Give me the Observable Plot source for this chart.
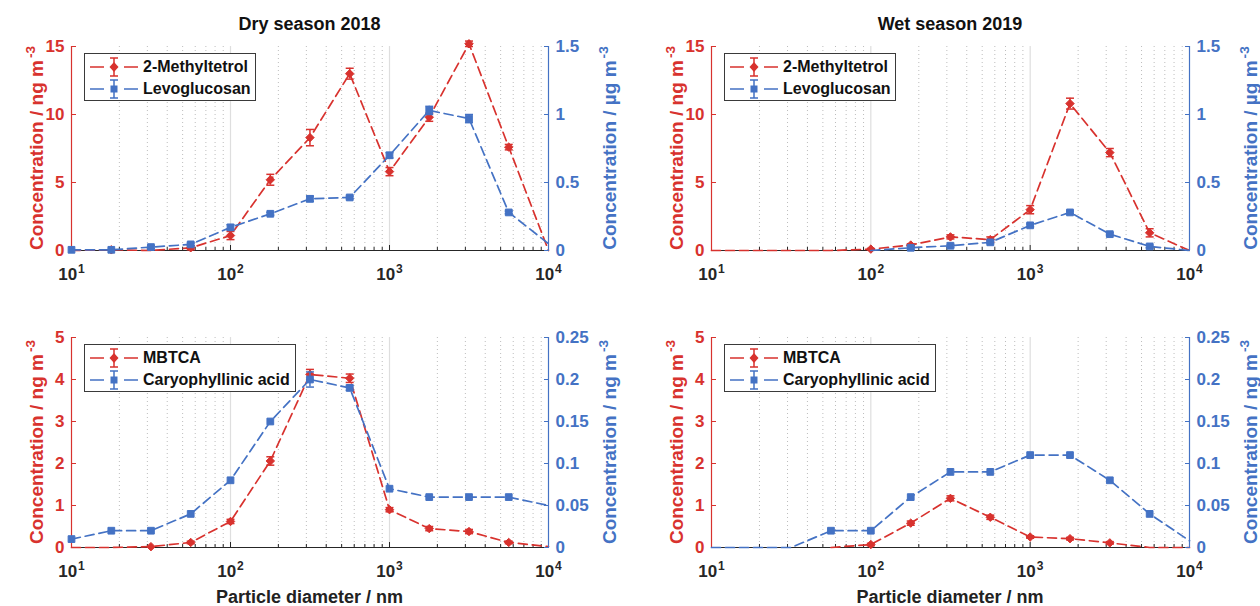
<!DOCTYPE html>
<html>
<head>
<meta charset="utf-8">
<script src="https://cdn.jsdelivr.net/npm/d3@7"></script>
<script src="https://cdn.jsdelivr.net/npm/@observablehq/plot@0.6"></script>
<style>
  html, body { margin: 0; padding: 0; background: #fff; }
  #fig { position: relative; width: 1260px; height: 606px; overflow: hidden;
         font-family: Arial, "Liberation Sans", Helvetica, sans-serif; font-weight: bold; }
  #fig > svg { position: absolute; }
  .title { position: absolute; transform: translate(-50%, -50%); font-size: 18px; color: #111; white-space: nowrap; }
  .ylab { position: absolute; transform: translate(-50%, -50%) rotate(-90deg); font-size: 19px; white-space: nowrap; line-height: 1; }
  .ylab .sup { font-size: 0.72em; position: relative; top: -0.6em; margin-left: 2px; }
  .xlab { position: absolute; transform: translate(-50%, -50%); font-size: 18px; color: #222; white-space: nowrap; }
  .legend { position: absolute; border: 1.3px solid #3a3a3a; background: #fff; box-sizing: border-box; padding-top: 2px; }
  .legend .row { display: flex; align-items: center; height: 22px; font-size: 16px; color: #111; white-space: nowrap; }
  #fig .legend .row svg { position: static; display: block; margin-left: 4px; margin-right: 4px; flex: none; }
</style>
</head>
<body>
<div id="fig"></div>
<script>
// ---------------- data ----------------
const diameters = [10, 17.8, 31.6, 56.2, 100, 178, 316, 562, 1000, 1778, 3162, 5623, 10000];

// Dry season 2018 (top-left)
const methyltetrolDry    = [0, 0.05, 0, 0.2, 1.1, 5.2, 8.3, 13.0, 5.8, 9.8, 15.2, 7.6, 0];
const methyltetrolDryErr = [0, 0, 0, 0.15, 0.3, 0.4, 0.6, 0.4, 0.3, 0.3, 0.2, 0.2, 0];
const levoglucosanDry    = [0.005, 0.005, 0.025, 0.045, 0.17, 0.27, 0.38, 0.39, 0.70, 1.03, 0.97, 0.28, 0.05];
const levoglucosanDryErr = [0, 0, 0.01, 0.01, 0.02, 0.01, 0.02, 0.01, 0.02, 0.03, 0.03, 0.01, 0];

// Wet season 2019 (top-right)
const methyltetrolWet    = [0, 0, 0, 0, 0.1, 0.4, 1.0, 0.8, 3.0, 10.8, 7.2, 1.3, 0];
const methyltetrolWetErr = [0, 0, 0, 0, 0.05, 0.1, 0.15, 0.2, 0.3, 0.4, 0.3, 0.3, 0];
const levoglucosanWet    = [null, null, null, null, 0, 0.02, 0.035, 0.06, 0.185, 0.28, 0.12, 0.03, 0];
const levoglucosanWetErr = [0, 0, 0, 0, 0, 0.01, 0.01, 0.01, 0.01, 0.01, 0.01, 0.01, 0];

// Dry season 2018 (bottom-left)
const mbtcaDry    = [0, 0, 0.02, 0.12, 0.62, 2.06, 4.12, 4.03, 0.9, 0.45, 0.38, 0.12, 0.02];
const mbtcaDryErr = [0, 0, 0, 0.03, 0.05, 0.1, 0.12, 0.1, 0.05, 0.05, 0.05, 0.03, 0];
const caryDry     = [0.01, 0.02, 0.02, 0.04, 0.08, 0.15, 0.2, 0.19, 0.07, 0.06, 0.06, 0.06, 0.05];
const caryDryErr  = [0, 0, 0, 0, 0, 0, 0.009, 0.003, 0, 0, 0, 0, 0];

// Wet season 2019 (bottom-right)
const mbtcaWet    = [null, null, null, 0, 0.07, 0.58, 1.17, 0.72, 0.25, 0.21, 0.11, 0, 0];
const mbtcaWetErr = [0, 0, 0, 0, 0.03, 0.05, 0.06, 0.05, 0.03, 0.03, 0.03, 0, 0];
const caryWet     = [0, 0, 0, 0.02, 0.02, 0.06, 0.09, 0.09, 0.11, 0.11, 0.08, 0.04, 0.008];
const caryWetErr  = [0, 0, 0, 0, 0, 0, 0, 0, 0, 0, 0, 0, 0];

const xMajorTicks = [10, 100, 1000, 10000];
const topLeftTicks = [0, 5, 10, 15];
const topRightTicks = [0, 0.5, 1, 1.5];
const bottomLeftTicks = [0, 1, 2, 3, 4, 5];
const bottomRightTicks = [0, 0.05, 0.1, 0.15, 0.2, 0.25];

// ---------------- style ----------------
const RED = "#D8322E", BLUE = "#4472C4", AXIS = "#262626";
const FONT = "Arial, 'Liberation Sans', Helvetica, sans-serif";
const minorTicks = [];
for (const dec of [10, 100, 1000]) for (let k = 2; k <= 9; k++) minorTicks.push(k * dec);

const capSymbol = {
  draw(ctx, size) { const w = Math.sqrt(size / Math.PI); ctx.moveTo(-w, 0); ctx.lineTo(w, 0); }
};

function seriesMarks(ys, es, color, symbol, r) {
  const rows = diameters.map((x, i) => ({x, y: ys[i], e: es[i]}));
  const pts = rows.filter(d => d.y != null && d.y > 0 && d.x < 10000);
  const errs = pts.filter(d => d.e > 0);
  return [
    Plot.line(rows, {x: "x", y: "y", stroke: color, strokeWidth: 1.7, strokeDasharray: "9,5"}),
    Plot.ruleX(errs, {x: "x", y1: d => d.y - d.e, y2: d => d.y + d.e, stroke: color, strokeWidth: 1.5}),
    Plot.dot(errs, {x: "x", y: d => d.y - d.e, symbol: capSymbol, r: 4, stroke: color, fill: "none", strokeWidth: 1.5}),
    Plot.dot(errs, {x: "x", y: d => d.y + d.e, symbol: capSymbol, r: 4, stroke: color, fill: "none", strokeWidth: 1.5}),
    Plot.dot(pts, {x: "x", y: "y", symbol, r, fill: color, stroke: color, strokeWidth: 1})
  ];
}

const fig = document.getElementById("fig");

function legendGlyph(color, symbol) {
  const s = d3.create("svg").attr("width", 50).attr("height", 22);
  s.append("path").attr("d", "M1,11H15M35,11H49").attr("stroke", color).attr("stroke-width", 1.6).attr("fill", "none");
  s.append("path").attr("d", "M25,2V20M21,2H29M21,20H29").attr("stroke", color).attr("stroke-width", 1.5).attr("fill", "none");
  if (symbol === "diamond") s.append("path").attr("d", "M25,6L29.5,11L25,16L20.5,11Z").attr("fill", color);
  else s.append("rect").attr("x", 21.5).attr("y", 7.5).attr("width", 7).attr("height", 7).attr("fill", color);
  return s.node();
}

function panel(p) {
  const mL = 70, mR = 70, mT = 20, mB = 50;
  const W = p.x1 - p.x0, H = p.y1 - p.y0;
  const base = {
    width: W + mL + mR, height: H + mT + mB,
    marginLeft: mL, marginRight: mR, marginTop: mT, marginBottom: mB,
    x: {type: "log", domain: [10, 10000], axis: null},
    style: {background: "transparent", fontFamily: FONT, fontSize: "17px", fontWeight: "bold", overflow: "visible"}
  };
  const leftSvg = Plot.plot({
    ...base,
    y: {domain: [0, p.leftMax], axis: null},
    marks: [
      Plot.gridX(minorTicks, {stroke: "#bdbdbd", strokeOpacity: 1, strokeDasharray: "1,3", strokeWidth: 1}),
      Plot.gridX([100, 1000], {stroke: "#dedede", strokeOpacity: 1, strokeWidth: 1.2}),
      Plot.axisX(minorTicks, {tickSize: -3, tickFormat: () => "", color: AXIS, label: null}),
      Plot.axisX(xMajorTicks, {tickSize: -5, tickPadding: 22, tickFormat: d => "10^" + Math.round(Math.log10(d)), color: AXIS, fontSize: 17, fontWeight: "bold", label: null}),
      Plot.axisY(p.leftTicks, {tickSize: -5, tickPadding: 12, color: RED, fontSize: 17, fontWeight: "bold", tickFormat: d => String(d), label: null}),
      Plot.ruleY([0], {stroke: AXIS, strokeWidth: 1.2}),
      Plot.ruleX([10], {stroke: RED, strokeWidth: 1.2}),
      ...seriesMarks(p.redValues, p.redErr, RED, "diamond2", 3.8)
    ]
  });
  const rightSvg = Plot.plot({
    ...base,
    y: {domain: [0, p.rightMax], axis: null},
    marks: [
      Plot.axisY(p.rightTicks, {anchor: "right", tickSize: -5, tickPadding: 12, color: BLUE, fontSize: 17, fontWeight: "bold", tickFormat: d => String(+d.toFixed(3)), label: null}),
      Plot.ruleX([10000], {stroke: BLUE, strokeWidth: 1.2}),
      ...seriesMarks(p.blueValues, p.blueErr, BLUE, "square", 3.8)
    ]
  });
  // superscript exponents on the major x tick labels
  d3.select(leftSvg).selectAll("text").each(function() {
    const t = this.textContent;
    if (!t.startsWith("10^")) return;
    this.textContent = "10";
    d3.select(this).append("tspan").attr("dy", "-0.55em").attr("font-size", "12px").attr("dx", "1").text(t.slice(3));
  });
  for (const s of [leftSvg, rightSvg]) {
    s.style.left = (p.x0 - mL) + "px";
    s.style.top = (p.y0 - mT) + "px";
    fig.appendChild(s);
  }
  if (p.title) {
    const t = document.createElement("div");
    t.className = "title"; t.textContent = p.title;
    t.style.left = ((p.x0 + p.x1) / 2) + "px"; t.style.top = p.titleY + "px";
    fig.appendChild(t);
  }
  const cy = (p.y0 + p.y1) / 2;
  const l1 = document.createElement("div");
  l1.className = "ylab"; l1.style.color = RED;
  l1.innerHTML = p.leftLabel + '<span class="sup">-3</span>';
  l1.style.left = (p.x0 - 35) + "px"; l1.style.top = cy + "px";
  fig.appendChild(l1);
  const l2 = document.createElement("div");
  l2.className = "ylab"; l2.style.color = BLUE;
  l2.innerHTML = p.rightLabel + '<span class="sup">-3</span>';
  l2.style.left = (p.x1 + 61) + "px"; l2.style.top = cy + "px";
  fig.appendChild(l2);
  if (p.xTitle) {
    const x = document.createElement("div");
    x.className = "xlab"; x.textContent = p.xTitle;
    x.style.left = ((p.x0 + p.x1) / 2) + "px"; x.style.top = p.xTitleY + "px";
    fig.appendChild(x);
  }
  const lg = document.createElement("div");
  lg.className = "legend";
  lg.style.left = (p.x0 + 13) + "px"; lg.style.top = (p.y0 + 7) + "px";
  lg.style.width = p.legendWidth + "px"; lg.style.height = "48px";
  for (const [name, color, sym] of [[p.redName, RED, "diamond"], [p.blueName, BLUE, "square"]]) {
    const row = document.createElement("div");
    row.className = "row";
    row.appendChild(legendGlyph(color, sym));
    const span = document.createElement("span"); span.textContent = name;
    row.appendChild(span);
    lg.appendChild(row);
  }
  fig.appendChild(lg);
}

const LX = [71, 548], RX = [711, 1189];
const TY = [46, 250], BY = [337, 547];

panel({x0: LX[0], x1: LX[1], y0: TY[0], y1: TY[1], title: "Dry season 2018", titleY: 24,
  leftMax: 15, rightMax: 1.5, leftTicks: topLeftTicks, rightTicks: topRightTicks,
  redValues: methyltetrolDry, redErr: methyltetrolDryErr, blueValues: levoglucosanDry, blueErr: levoglucosanDryErr,
  redName: "2-Methyltetrol", blueName: "Levoglucosan", legendWidth: 172,
  leftLabel: "Concentration / ng m", rightLabel: "Concentration / µg m"});
panel({x0: RX[0], x1: RX[1], y0: TY[0], y1: TY[1], title: "Wet season 2019", titleY: 24,
  leftMax: 15, rightMax: 1.5, leftTicks: topLeftTicks, rightTicks: topRightTicks,
  redValues: methyltetrolWet, redErr: methyltetrolWetErr, blueValues: levoglucosanWet, blueErr: levoglucosanWetErr,
  redName: "2-Methyltetrol", blueName: "Levoglucosan", legendWidth: 172,
  leftLabel: "Concentration / ng m", rightLabel: "Concentration / µg m"});
panel({x0: LX[0], x1: LX[1], y0: BY[0], y1: BY[1], xTitle: "Particle diameter / nm", xTitleY: 597,
  leftMax: 5, rightMax: 0.25, leftTicks: bottomLeftTicks, rightTicks: bottomRightTicks,
  redValues: mbtcaDry, redErr: mbtcaDryErr, blueValues: caryDry, blueErr: caryDryErr,
  redName: "MBTCA", blueName: "Caryophyllinic acid", legendWidth: 212,
  leftLabel: "Concentration / ng m", rightLabel: "Concentration / ng m"});
panel({x0: RX[0], x1: RX[1], y0: BY[0], y1: BY[1], xTitle: "Particle diameter / nm", xTitleY: 597,
  leftMax: 5, rightMax: 0.25, leftTicks: bottomLeftTicks, rightTicks: bottomRightTicks,
  redValues: mbtcaWet, redErr: mbtcaWetErr, blueValues: caryWet, blueErr: caryWetErr,
  redName: "MBTCA", blueName: "Caryophyllinic acid", legendWidth: 212,
  leftLabel: "Concentration / ng m", rightLabel: "Concentration / ng m"});
</script>
</body>
</html>
